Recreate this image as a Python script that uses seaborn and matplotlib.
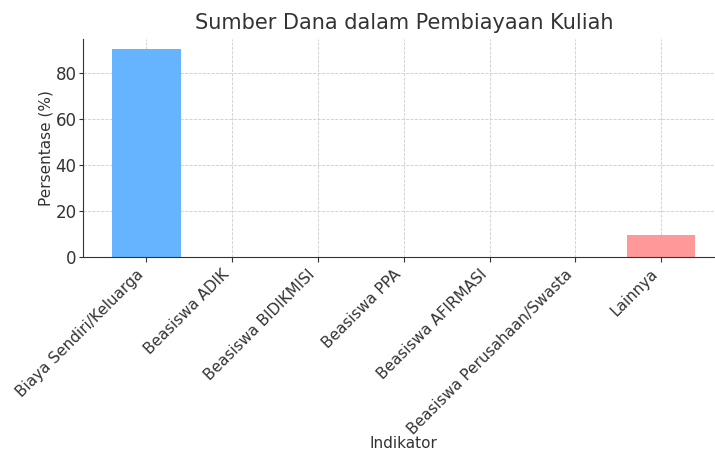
import seaborn as sns
import pandas as pd
import matplotlib.pyplot as plt

# data
indikator = [
    "Biaya Sendiri/Keluarga",
    "Beasiswa ADIK",
    "Beasiswa BIDIKMISI",
    "Beasiswa PPA",
    "Beasiswa AFIRMASI",
    "Beasiswa Perusahaan/Swasta",
    "Lainnya",
]
persentase = [90.2, 0, 0, 0, 0, 0, 9.5]
warna = ["#66b3ff", "#99ff99", "#ffcc99", "#c2c2f0", "#ffb3e6", "#c4e17f", "#ff9999"]

df = pd.DataFrame({"Indikator": indikator, "Persentase": persentase})

plt.rcParams["font.family"] = ["DejaVu Sans"]
text_col = "#333333"

fig = plt.figure(figsize=(7.15, 4.53), dpi=100)
ax = fig.add_axes([0.116, 0.4333, 0.8975, 0.4806])

sns.barplot(
    data=df,
    x="Indikator",
    y="Persentase",
    hue="Indikator",
    palette=warna,
    legend=False,
    width=0.8,
    saturation=1,
    ax=ax,
)

ax.set_axisbelow(True)
ax.grid(True, linestyle="--", color="#cccccc", linewidth=0.6)
ax.set_xlim(-0.74, 6.74)
ax.set_ylim(0, 94.7)

# Axis labels and title
ax.set_title("Sumber Dana dalam Pembiayaan Kuliah", fontsize=15, color=text_col, pad=7)
ax.set_xlabel("Indikator", fontsize=11, color=text_col, labelpad=-1)
ax.set_ylabel("Persentase (%)", fontsize=11, color=text_col, labelpad=1.5)
ax.set_xticks(range(len(indikator)))
ax.set_xticklabels(indikator, rotation=45, ha="right", fontsize=11, color=text_col)
ax.tick_params(axis="y", labelsize=12, labelcolor=text_col, length=3, pad=1.5)
ax.tick_params(colors=text_col)

sns.despine(ax=ax)
for s in ["left", "bottom"]:
    ax.spines[s].set_color(text_col)

fig.savefig("out.png", dpi=100)
